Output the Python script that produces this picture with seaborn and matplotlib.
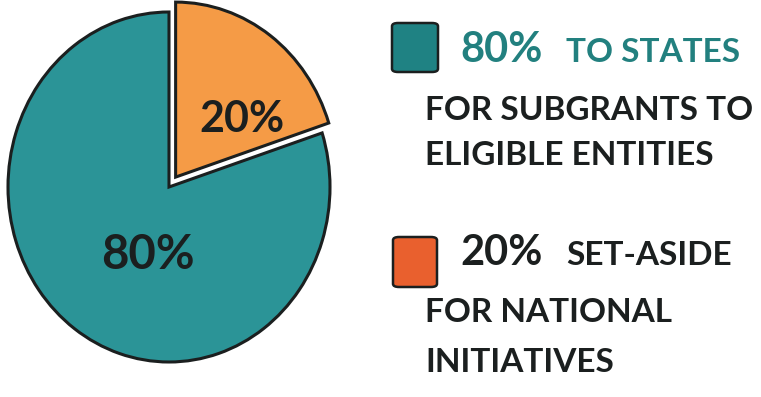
import matplotlib
matplotlib.use("Agg")
import matplotlib.pyplot as plt
from matplotlib.patches import FancyBboxPatch, Wedge
import seaborn as sns

# ---- data ----
categories = ["20% set-aside for national initiatives", "80% to states for subgrants to eligible entities"]
shares = [20, 80]
slice_labels = ["20%", "80%"]
legend_head = ["80%", "20%"]
legend_tail = ["TO STATES", "SET-ASIDE"]
legend_lines = [["FOR SUBGRANTS TO", "ELIGIBLE ENTITIES"], ["FOR NATIONAL", "INITIATIVES"]]

TEAL = "#2b9497"
TEAL_DARK = "#1f8283"
TEAL_TEXT = "#22807f"
ORANGE = "#f59b46"
ORANGE_KEY = "#e9602e"
INK = "#1b1f1f"

sns.set_theme(style="white")
plt.rcParams["font.family"] = ["Lato", "DejaVu Sans"]

W, H = 761, 397
fig = plt.figure(figsize=(W / 100, H / 100), dpi=100)
fig.patch.set_facecolor("white")

def fx(px):
    return px / W

def fy(py):
    return 1 - py / H

# pie axes: centre (169,187) px, rx=161, ry=175
cx, cy, rx, ry, lim = 169, 187, 161, 175, 1.15
ax = fig.add_axes([fx(cx - rx * lim), fy(cy + ry * lim), 2 * rx * lim / W, 2 * ry * lim / H])
wedges, _ = ax.pie(
    shares,
    colors=[ORANGE, TEAL],
    explode=[0.07, 0],
    startangle=90,
    counterclock=False,
    wedgeprops=dict(edgecolor=INK, linewidth=2.2),
)
w0 = wedges[0]
w0.set_linewidth(0)
# outline of the exploded wedge, and a white rim along its straight edges
ax.add_patch(Wedge(w0.center, w0.r, w0.theta1, w0.theta2, facecolor="none",
                   edgecolor="white", linewidth=4.5, zorder=0))
ax.add_patch(Wedge(w0.center, w0.r, w0.theta1, w0.theta2, facecolor="none",
                   edgecolor=INK, linewidth=2.2))
ax.set_xlim(-lim, lim)
ax.set_ylim(-lim, lim)
ax.set_aspect("auto")
ax.axis("off")

label_pos = [(0.45, 0.39), (-0.13, -0.39)]
label_size = [31, 34]
for (x, y), t, s in zip(label_pos, slice_labels, label_size):
    ax.text(x, y, t, ha="center", va="center", fontsize=s, fontweight="bold", color=INK)

# ---- legend ----
keys = [(392, 23, 46, 49, TEAL_DARK), (393, 237, 44, 50, ORANGE_KEY)]
for (x, y, w, h, c) in keys:
    fig.patches.append(FancyBboxPatch((fx(x), fy(y + h)), w / W, h / H,
                                      boxstyle="round,pad=0,rounding_size=0.008",
                                      transform=fig.transFigure, facecolor=c,
                                      edgecolor=INK, linewidth=1.8))

head_base = [62, 265]
head_colors = [TEAL_TEXT, INK]
for i in range(2):
    fig.text(fx(460), fy(head_base[i]), legend_head[i], fontsize=30, fontweight="bold",
             color=head_colors[i], va="baseline", ha="left")
    fig.text(fx(566), fy(head_base[i]), legend_tail[i], fontsize=24, fontweight="bold",
             color=head_colors[i], va="baseline", ha="left")

line_bases = [[120, 165], [322, 372]]
for i in range(2):
    for t, b in zip(legend_lines[i], line_bases[i]):
        fig.text(fx(425), fy(b), t, fontsize=24, fontweight="bold", color=INK,
                 va="baseline", ha="left")

fig.savefig("out.png", dpi=100, facecolor="white")
